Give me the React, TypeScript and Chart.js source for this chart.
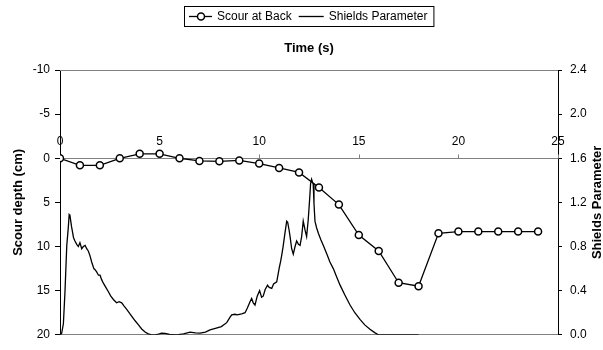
import React, { useEffect, useRef } from "react";
import { Chart, registerables } from "chart.js";

Chart.register(...registerables);

// Scour at back (cm), one reading per second
const scourTime = [0, 1, 2, 3, 4, 5, 6, 7, 8, 9, 10, 11, 12, 13, 14, 15, 16, 17, 18, 19, 20, 21, 22, 23, 24];
const scourDepth = [0, 0.8, 0.8, 0, -0.5, -0.5, 0, 0.3, 0.35, 0.25, 0.6, 1.1, 1.6, 3.3, 5.25, 8.7, 10.5, 14.1, 14.5, 8.5, 8.3, 8.3, 8.3, 8.3, 8.3];

// Shields parameter trace
const shieldsTime = [
  0.0, 0.08, 0.17, 0.25, 0.34, 0.42, 0.46, 0.5, 0.58, 0.68, 0.75, 0.84, 0.92, 1.0, 1.09, 1.17, 1.26, 1.34, 1.42, 1.5,
  1.59, 1.7, 1.76, 1.84, 1.93, 2.01, 2.09, 2.17, 2.3, 2.43, 2.55, 2.68, 2.84, 2.97, 3.1, 3.22, 3.35, 3.55, 3.77, 3.94,
  4.1, 4.27, 4.43, 4.6, 4.77, 4.95, 5.1, 5.27, 5.5, 5.86, 6.2, 6.53, 6.8, 7.03, 7.3, 7.53, 7.8, 8.1, 8.37, 8.53,
  8.62, 8.78, 8.9, 9.12, 9.29, 9.4, 9.54, 9.62, 9.7, 9.79, 9.9, 10.02, 10.12, 10.2, 10.3, 10.42, 10.5, 10.63, 10.72, 10.88,
  10.95, 11.01, 11.07, 11.13, 11.2, 11.3, 11.38, 11.43, 11.5, 11.55, 11.63, 11.71, 11.8, 11.88, 11.97, 12.05, 12.13, 12.21, 12.3, 12.38,
  12.46, 12.54, 12.58, 12.63, 12.68, 12.71, 12.75, 12.8, 12.88, 12.97, 13.1, 13.22, 13.4, 13.55, 13.72, 13.9, 14.06, 14.3, 14.56, 14.8,
  15.06, 15.3, 15.56, 15.8, 15.98, 18.0,
];
const shieldsValue = [
  0.0, 0.01, 0.1, 0.39, 0.81, 0.98, 1.09, 1.08, 0.98, 0.88, 0.85, 0.82, 0.8, 0.835, 0.78, 0.8, 0.81, 0.78, 0.76, 0.72,
  0.66, 0.6, 0.59, 0.57, 0.54, 0.54, 0.5, 0.47, 0.43, 0.39, 0.35, 0.32, 0.29, 0.3, 0.29, 0.26, 0.23, 0.18, 0.127, 0.09,
  0.053, 0.025, 0.009, 0.0, 0.0, 0.006, 0.015, 0.012, 0.003, 0.0, 0.008, 0.024, 0.018, 0.015, 0.025, 0.044, 0.058, 0.074, 0.11, 0.157,
  0.18, 0.186, 0.18, 0.19, 0.2, 0.24, 0.3, 0.33, 0.29, 0.27, 0.35, 0.4, 0.34, 0.35, 0.41, 0.45, 0.43, 0.42, 0.46, 0.48,
  0.55, 0.61, 0.66, 0.72, 0.8, 0.93, 1.03, 1.02, 0.95, 0.89, 0.78, 0.73, 0.8, 0.85, 0.82, 0.81, 0.89, 1.03, 0.95, 0.89,
  1.04, 1.25, 1.37, 1.41, 1.38, 1.37, 1.19, 1.03, 0.97, 0.92, 0.86, 0.81, 0.73, 0.66, 0.6, 0.52, 0.45, 0.36, 0.27, 0.2,
  0.14, 0.09, 0.05, 0.02, 0.0, 0.0,
];

const xTicks = [0, 5, 10, 15, 20, 25];
const legendLabels = ["Scour at Back", "Shields Parameter"];
const xTitle = "Time (s)";
const leftTitle = "Scour depth (cm)";
const rightTitle = "Shields Parameter";

const FONT = "'Liberation Sans', Arial, sans-serif";

const decorPlugin = {
  id: "decor",
  beforeDatasetsDraw(chart: any) {
    const { ctx, chartArea: ca, scales } = chart;
    ctx.save();
    ctx.strokeStyle = "#808080";
    ctx.lineWidth = 1;
    ctx.beginPath();
    ctx.moveTo(ca.left, Math.round(ca.top) + 0.5);
    ctx.lineTo(ca.right, Math.round(ca.top) + 0.5);
    ctx.moveTo(ca.left, Math.round(ca.bottom) - 0.5);
    ctx.lineTo(ca.right, Math.round(ca.bottom) - 0.5);
    const y0 = Math.round(scales.y.getPixelForValue(0)) + 0.5;
    ctx.moveTo(ca.left, y0);
    ctx.lineTo(ca.right, y0);
    ctx.stroke();
    ctx.beginPath();
    for (const t of xTicks) {
      const px = Math.round(scales.x.getPixelForValue(t)) + 0.5;
      ctx.moveTo(px, y0);
      ctx.lineTo(px, y0 - 4);
    }
    ctx.stroke();
    ctx.restore();
  },
  afterDraw(chart: any) {
    const { ctx, chartArea: ca, scales } = chart;
    ctx.save();
    ctx.fillStyle = "#000";
    // x tick labels above the zero line
    ctx.font = `12px ${FONT}`;
    ctx.textAlign = "center";
    ctx.textBaseline = "middle";
    const y0 = scales.y.getPixelForValue(0);
    for (const t of xTicks) {
      ctx.fillText(String(t), scales.x.getPixelForValue(t), y0 - 17);
    }
    // title
    const cx = (ca.left + ca.right) / 2;
    ctx.font = `bold 13px ${FONT}`;
    ctx.fillText(xTitle, cx, 48);
    // left axis title
    ctx.save();
    ctx.translate(18, (ca.top + ca.bottom) / 2);
    ctx.rotate(-Math.PI / 2);
    ctx.fillText(leftTitle, 0, 0);
    ctx.restore();
    // right axis title
    ctx.save();
    ctx.translate(597, (ca.top + ca.bottom) / 2);
    ctx.rotate(-Math.PI / 2);
    ctx.fillText(rightTitle, 0, 0);
    ctx.restore();
    // legend
    ctx.font = `12px ${FONT}`;
    const w1 = ctx.measureText(legendLabels[0]).width;
    const w2 = ctx.measureText(legendLabels[1]).width;
    const total = 5 + 23 + 5 + w1 + 7 + 25 + 5 + w2 + 6;
    const L = Math.round(cx - total / 2);
    const ly = 16.5;
    ctx.strokeStyle = "#000";
    ctx.lineWidth = 1;
    ctx.strokeRect(L + 0.5, 6.5, total, 20);
    ctx.lineWidth = 1.3;
    ctx.beginPath();
    ctx.moveTo(L + 5, ly);
    ctx.lineTo(L + 28, ly);
    ctx.stroke();
    ctx.beginPath();
    ctx.arc(L + 17, ly, 3.5, 0, Math.PI * 2);
    ctx.fillStyle = "#fff";
    ctx.fill();
    ctx.lineWidth = 1.5;
    ctx.stroke();
    ctx.fillStyle = "#000";
    ctx.textAlign = "left";
    ctx.fillText(legendLabels[0], L + 33, ly);
    const s2 = L + 33 + w1 + 7;
    ctx.lineWidth = 1.3;
    ctx.beginPath();
    ctx.moveTo(s2, ly);
    ctx.lineTo(s2 + 25, ly);
    ctx.stroke();
    ctx.fillText(legendLabels[1], s2 + 30, ly);
    ctx.restore();
  },
};

export default function App() {
  const ref = useRef<HTMLCanvasElement | null>(null);
  useEffect(() => {
    if (!ref.current) return;
    const chart = new Chart(ref.current, {
      type: "line",
      data: {
        datasets: [
          {
            label: legendLabels[0],
            data: scourTime.map((t, i) => ({ x: t, y: scourDepth[i] })),
            yAxisID: "y",
            borderColor: "#000",
            borderWidth: 1.3,
            pointRadius: 3.5,
            pointBackgroundColor: "#fff",
            pointBorderColor: "#000",
            pointBorderWidth: 1.5,
            tension: 0,
            order: 0,
          },
          {
            label: legendLabels[1],
            data: shieldsTime.map((t, i) => ({ x: t, y: shieldsValue[i] })),
            yAxisID: "y1",
            borderColor: "#000",
            borderWidth: 1.3,
            pointRadius: 0,
            tension: 0,
            order: 1,
          },
        ],
      },
      options: {
        animation: false,
        responsive: false,
        events: [],
        layout: { padding: { top: 70, bottom: 9, left: 0, right: 0 } },
        plugins: { legend: { display: false }, tooltip: { enabled: false }, title: { display: false } },
        scales: {
          x: { type: "linear", min: 0, max: 25, display: false },
          y: {
            position: "left",
            reverse: true,
            min: -10,
            max: 20,
            ticks: { stepSize: 5, color: "#000", padding: 5, font: { size: 12, family: FONT } },
            grid: { drawOnChartArea: false, drawTicks: true, tickLength: 5, color: "#000" },
            border: { display: true, color: "#000", width: 1 },
            afterFit: (s: any) => {
              s.width = 60;
            },
          },
          y1: {
            position: "right",
            min: 0,
            max: 2.4,
            ticks: {
              stepSize: 0.4,
              color: "#000",
              padding: 8,
              font: { size: 12, family: FONT },
              callback: (v: any) => Number(v).toFixed(1),
            },
            grid: { drawOnChartArea: false, drawTicks: true, tickLength: 4, color: "#000" },
            border: { display: true, color: "#000", width: 1 },
            afterFit: (s: any) => {
              s.width = 45;
            },
          },
        },
      },
      plugins: [decorPlugin],
    });
    return () => chart.destroy();
  }, []);
  return (
    <div style={{ position: "absolute", left: 0, top: 0, width: 603, height: 350, background: "#fff" }}>
      <canvas ref={ref} width={603} height={350} style={{ display: "block" }} />
    </div>
  );
}
